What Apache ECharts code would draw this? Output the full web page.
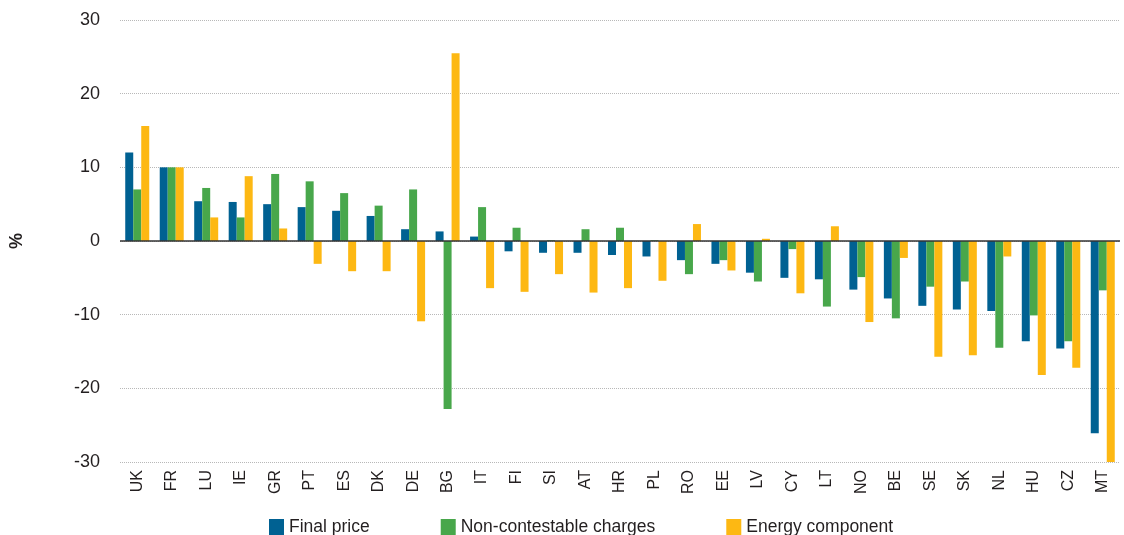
<!DOCTYPE html>
<html>
<head>
<meta charset="utf-8">
<script src="https://cdn.jsdelivr.net/npm/echarts@6/dist/echarts.min.js"></script>
<style>
  html, body { margin: 0; padding: 0; background: #fff; }
  #chart { width: 1124px; height: 535px; }
</style>
</head>
<body>
<div id="chart"></div>
<script>
// countries, sorted as in the source figure
var countries = ["UK", "FR", "LU", "IE", "GR", "PT", "ES", "DK", "DE", "BG", "IT", "FI", "SI", "AT", "HR",
  "PL", "RO", "EE", "LV", "CY", "LT", "NO", "BE", "SE", "SK", "NL", "HU", "CZ", "MT"];

// % change
var finalPrice = [12.0, 10.0, 5.4, 5.3, 5.0, 4.6, 4.1, 3.4, 1.6, 1.3, 0.6, -1.4, -1.6, -1.6, -1.9,
  -2.1, -2.6, -3.1, -4.3, -5.0, -5.2, -6.6, -7.8, -8.8, -9.3, -9.5, -13.6, -14.6, -26.1];
var nonContestable = [7.0, 10.0, 7.2, 3.2, 9.1, 8.1, 6.5, 4.8, 7.0, -22.8, 4.6, 1.8, 0.1, 1.6, 1.8,
  0.1, -4.5, -2.6, -5.5, -1.1, -8.9, -4.9, -10.5, -6.2, -5.5, -14.5, -10.1, -13.6, -6.7];
var energyComponent = [15.6, 10.0, 3.2, 8.8, 1.7, -3.1, -4.1, -4.1, -10.9, 25.5, -6.4, -6.9, -4.5, -7.0, -6.4,
  -5.4, 2.3, -4.0, 0.3, -7.1, 2.0, -11.0, -2.3, -15.7, -15.5, -2.1, -18.2, -17.2, -30.3];

var yTicks = [-30, -20, -10, 0, 10, 20, 30];

var font = "'Liberation Sans', Arial, sans-serif";
var textCol = "#231f20";

var chart = echarts.init(document.getElementById("chart"));

var option = {
  animation: false,
  textStyle: { fontFamily: font, color: textCol },
  grid: { left: 119, right: 4, top: 20, bottom: 73 },
  legend: {
    left: 264,
    top: 513,
    itemWidth: 15,
    itemHeight: 16,
    itemGap: 71,
    icon: "rect",
    textStyle: { fontFamily: font, fontSize: 17.5, color: textCol },
    data: ["Final price", "Non-contestable charges", "Energy component"]
  },
  xAxis: {
    type: "category",
    data: countries,
    axisLine: { show: false, onZero: false },
    axisTick: { show: false },
    axisLabel: {
      rotate: 90,
      interval: 0,
      margin: 8,
      fontFamily: font,
      fontSize: 16,
      color: textCol
    }
  },
  yAxis: {
    type: "value",
    min: yTicks[0],
    max: yTicks[yTicks.length - 1],
    interval: 10,
    name: "%",
    nameLocation: "middle",
    nameRotate: 90,
    nameGap: 94,
    nameTextStyle: { fontFamily: font, fontSize: 18, fontWeight: "bold", color: textCol },
    axisLine: { show: false },
    axisTick: { show: false },
    axisLabel: { margin: 20, fontFamily: font, fontSize: 18, color: textCol },
    splitLine: { lineStyle: { type: "dotted", color: "#b8b8b8", width: 1 } }
  },
  series: [
    {
      name: "Final price",
      type: "bar",
      data: finalPrice,
      barWidth: 8,
      barGap: "0%",
      itemStyle: { color: "#006192" },
      markLine: {
        silent: true,
        symbol: ["none", "none"],
        label: { show: false },
        lineStyle: { color: "#333", width: 1.5, type: "solid" },
        data: [{ yAxis: 0 }]
      }
    },
    {
      name: "Non-contestable charges",
      type: "bar",
      data: nonContestable,
      barWidth: 8,
      barGap: "0%",
      itemStyle: { color: "#48a74b" }
    },
    {
      name: "Energy component",
      type: "bar",
      data: energyComponent,
      barWidth: 8,
      barGap: "0%",
      itemStyle: { color: "#fdb813" }
    }
  ]
};

chart.setOption(option);
</script>
</body>
</html>
